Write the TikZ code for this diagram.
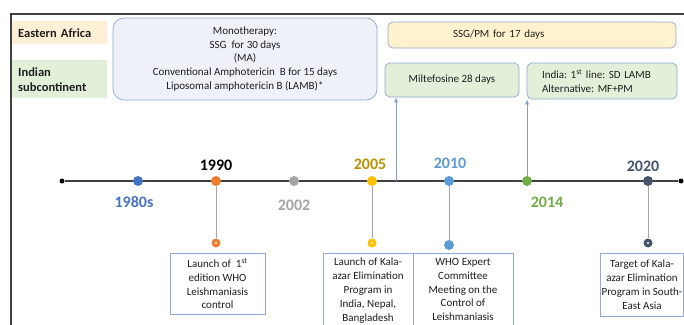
\documentclass[tikz,border=0pt]{standalone}
\usepackage{fontspec}
\setmainfont{Carlito}
\frenchspacing
\usetikzlibrary{arrows.meta}
\definecolor{eafill}{HTML}{FCEFD6}
\definecolor{islab}{HTML}{E2F0D9}
\definecolor{monofill}{HTML}{EEF2F8}
\definecolor{boxblue}{HTML}{8EA8D8}
\definecolor{yfill}{HTML}{FFF2CC}
\definecolor{gfill}{HTML}{E2F0D9}
\definecolor{arrblue}{HTML}{7F9FD3}
\definecolor{tl}{HTML}{404040}
\definecolor{drop}{HTML}{A6A6A6}
\definecolor{txt}{HTML}{1E1E1E}
\definecolor{cA}{HTML}{4472C4}
\definecolor{cB}{HTML}{ED7D31}
\definecolor{cC}{HTML}{A5A5A5}
\definecolor{cD}{HTML}{FFC000}
\definecolor{cDt}{HTML}{BF9000}
\definecolor{cE}{HTML}{5B9BD5}
\definecolor{cF}{HTML}{70AD47}
\definecolor{cG}{HTML}{44546A}
\tikzset{
  labbox/.style={anchor=north west, inner xsep=6pt, inner ysep=0pt, align=left,
    font=\fontsize{12.5}{15}\selectfont\bfseries, text=txt},
  topbox/.style={draw=boxblue, line width=0.7pt, rounded corners=5pt,
    font=\fontsize{11}{13.8}\selectfont, text=txt, inner sep=0pt},
  yeardot/.style={circle, minimum size=10pt, inner sep=0pt},
  enddot/.style={circle, fill=black, minimum size=5pt, inner sep=0pt},
  smalldot/.style={circle, minimum size=9pt, inner sep=0pt},
  year/.style={font=\fontsize{16}{16}\selectfont\bfseries},
  evbox/.style={draw=boxblue, line width=0.7pt, fill=white, align=center, anchor=north,
    font=\fontsize{11}{13.8}\selectfont, text=txt, inner xsep=1pt, inner ysep=3pt},
  droplink/.style={draw=drop, line width=0.8pt},
  uparrow/.style={draw=arrblue, line width=0.7pt, -{Latex[length=5pt,width=4pt]}}
}
\begin{document}
\begin{tikzpicture}[x=1pt,y=-1pt]
\useasboundingbox (0,0) rectangle (684,324);
\clip (0,0) rectangle (684,324);
\fill[white] (0,0) rectangle (684,324);
% frame
\draw[line width=1.4pt, tl] (11,330) -- (11,14) -- (690,14);
% region labels
\node[labbox, fill=eafill, minimum width=95pt, minimum height=23pt, text width=83pt] (ea) at (12,21) {Eastern Africa};
\node[labbox, fill=islab, minimum width=95pt, minimum height=38pt, text width=83pt] (is) at (12,60) {Indian\\subcontinent};
% top boxes
\node[topbox, fill=monofill, rounded corners=11pt, minimum width=264pt, minimum height=82pt, align=center] (mono) at (245,59)
  {Monotherapy:\\SSG\ \ for 30 days\\(MA)\\Conventional Amphotericin\ \ B for 15 days\\Liposomal amphotericin B (LAMB)*};
\node[topbox, fill=yfill, minimum width=288pt, minimum height=26pt, text width=288pt, align=left] (ssg) at (532,35)
  {\hspace*{65pt}SSG/PM for 17 days};
\node[topbox, fill=gfill, minimum width=134pt, minimum height=34pt, align=center] (milt) at (452,80) {Miltefosine 28 days};
\node[topbox, fill=gfill, minimum width=150pt, minimum height=36pt, text width=120pt, align=left] (india) at (602,81)
  {India: 1\textsuperscript{st} line: SD LAMB\\Alternative: MF+PM};
% timeline
\node[enddot] (tlL) at (62,181) {};
\node[enddot] (tlR) at (681,181) {};
\draw[line width=1.6pt, tl] (tlL) -- (tlR);
% arrows
\coordinate (a1) at (396,181);
\coordinate (a2) at (527,181);
\draw[uparrow] (a1) -- (a1 |- milt.south);
\draw[uparrow] (a2) -- (a2 |- india.south);
% year dots
\node[yeardot, fill=cA] (d1980) at (138,181) {};
\node[yeardot, fill=cB] (d1990) at (216,181) {};
\node[yeardot, fill=cC] (d2002) at (294,181) {};
\node[yeardot, fill=cD] (d2005) at (372,181) {};
\node[yeardot, fill=cE] (d2010) at (449,181) {};
\node[yeardot, fill=cF] (d2014) at (527,181) {};
\node[yeardot, fill=cG] (d2020) at (648,181) {};
% year labels
\node[year, text=cA] (y1980) at (134,202) {1980s};
\node[year, text=black] (y1990) at (216,165) {1990};
\node[year, text=cC] (y2002) at (294,205) {2002};
\node[year, text=cDt] (y2005) at (370,164) {2005};
\node[year, text=cE] (y2010) at (450,163) {2010};
\node[year, text=cF] (y2014) at (547,202) {2014};
\node[year, text=cG] (y2020) at (643,166) {2020};
% drop dots
\node[smalldot, fill=cB] (s1990) at (216,243) {};
\node[smalldot, fill=cD] (s2005) at (372,243) {};
\node[smalldot, fill=cE, minimum size=10pt] (s2010) at (449,245) {};
\node[smalldot, fill=cG] (s2020) at (648,243) {};
\draw[droplink] (d1990) -- (s1990);
\draw[droplink] (d2005) -- (s2005);
\draw[droplink] (d2010) -- (s2010);
\draw[droplink] (d2020) -- (s2020);
\foreach \n in {s1990,s2005,s2020} \fill[white] (\n.center) circle (1.2pt);
% event boxes
\node[evbox, minimum width=95pt, minimum height=61pt] (e1990) at (217.5,253)
  {Launch of\ \ 1\textsuperscript{st}\\edition WHO\\Leishmaniasis\\control};
\node[evbox, minimum width=90pt, inner ysep=5pt] (e2005) at (368,253)
  {Launch of Kala-\\azar Elimination\\Program in\\India, Nepal,\\Bangladesh};
\node[evbox, minimum width=100pt, inner ysep=5pt] (e2010) at (463,253)
  {WHO Expert\\Committee\\Meeting on the\\Control of\\Leishmaniasis};
\node[evbox, minimum width=83pt, minimum height=63pt] (e2020) at (642,253)
  {Target of Kala-\\azar Elimination\\Program in South-\\East Asia};
\end{tikzpicture}
\end{document}
